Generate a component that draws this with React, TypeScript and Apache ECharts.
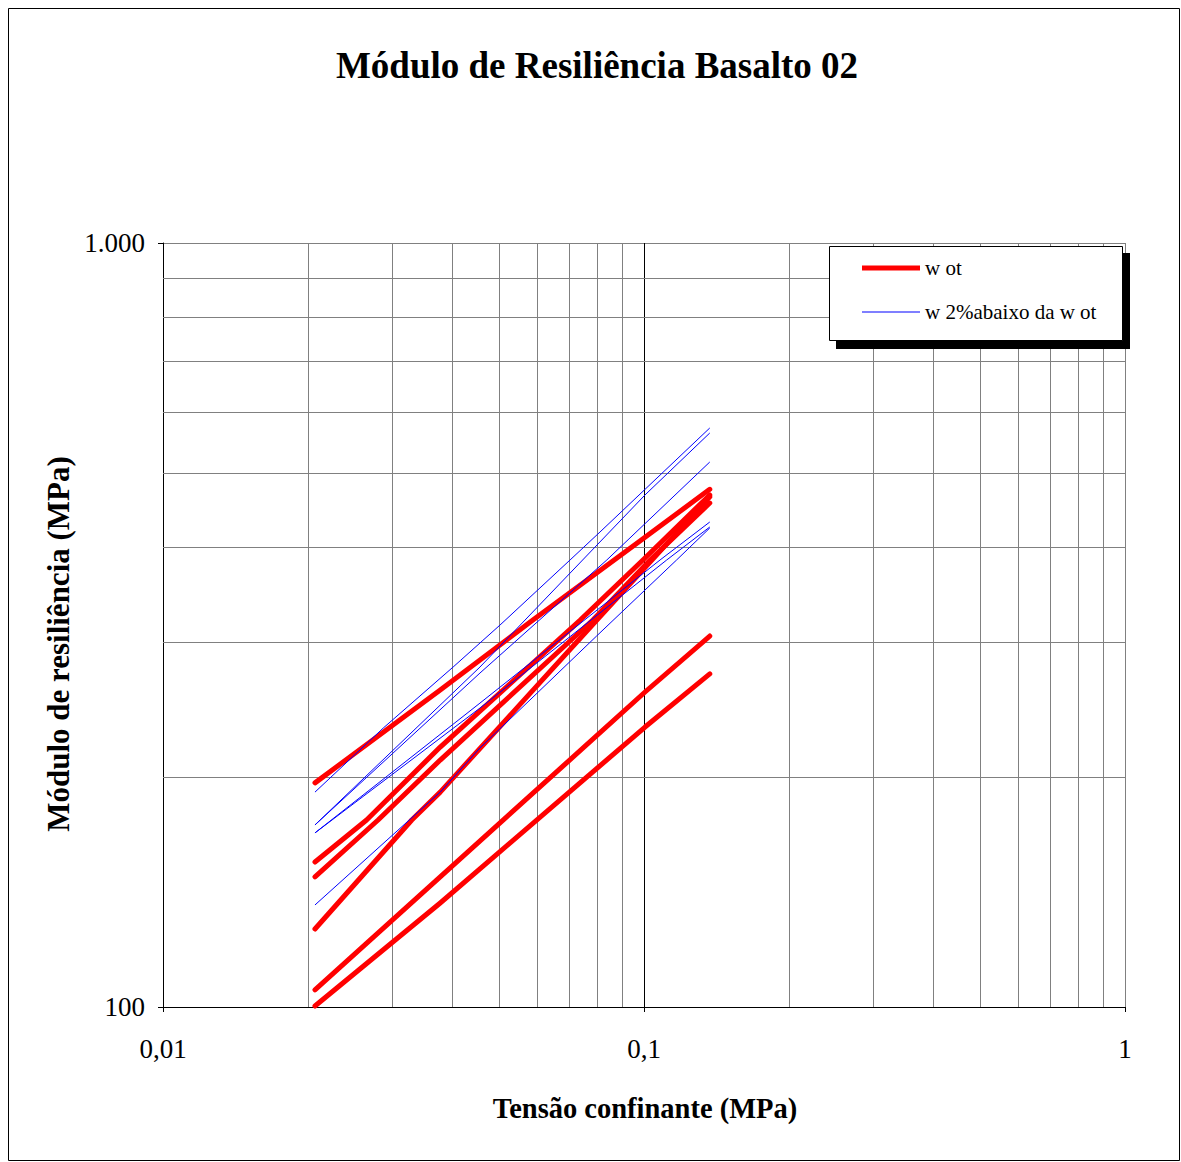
import React, { useEffect, useRef } from 'react';
import * as echarts from 'echarts';

const FONT = '"Liberation Serif", "Times New Roman", Times, serif';

const TITLE = 'Módulo de Resiliência Basalto 02';
const X_NAME = 'Tensão confinante (MPa)';
const Y_NAME = 'Módulo de resiliência (MPa)';
const RED_NAME = 'w ot';
const BLUE_NAME = 'w 2%abaixo da w ot';

// minor grid positions (axis values)
const xMinorTicks = [0.02, 0.03, 0.04, 0.05, 0.06, 0.07, 0.08, 0.09, 0.2, 0.3, 0.4, 0.5, 0.6, 0.7, 0.8, 0.9];
const yMinorTicks = [200, 300, 400, 500, 600, 700, 800, 900];

// wot curves [tensão confinante (MPa), módulo (MPa)]
const wot1 = [[0.0207, 196.5], [0.0377, 260], [0.058, 319], [0.1005, 412], [0.137, 476]];
const wot2 = [[0.0207, 154.8], [0.0265, 175.7], [0.0377, 218.9], [0.0737, 321], [0.0995, 384.7], [0.137, 468]];
const wot3 = [[0.0207, 148], [0.028, 175.7], [0.0377, 210.5], [0.0783, 321], [0.103, 384.7], [0.137, 456.7]];
const wot4 = [[0.0207, 126.5], [0.0329, 175.7], [0.0377, 191.1], [0.0798, 321], [0.137, 465.2]];
const wot5 = [[0.0207, 105.3], [0.0377, 148], [0.1005, 258.4], [0.137, 305.9]];
const wot6 = [[0.0207, 100.3], [0.0377, 136.8], [0.1005, 232.5], [0.137, 272.9]];

// w 2% abaixo da wot curves
const w2a = [[0.0207, 191.1], [0.0287, 231.8], [0.0401, 278.6], [0.0502, 316.2], [0.0702, 384.7], [0.081, 418.5], [0.137, 572.6]];
const w2b = [[0.0207, 173.1], [0.0456, 278.6], [0.1005, 468], [0.137, 564]];
const w2c = [[0.0207, 173.1], [0.0456, 273.6], [0.0837, 384.7], [0.137, 516.8]];
const w2d = [[0.0207, 169], [0.0456, 249.9], [0.108, 384.7], [0.137, 431.3]];
const w2e = [[0.0207, 169], [0.0456, 246.2], [0.1115, 384.7], [0.137, 424.9]];
const w2f = [[0.0207, 136], [0.0377, 191.1], [0.0456, 218.3], [0.0797, 305.9], [0.1169, 384.7], [0.137, 423.6]];

const redCurves = [wot1, wot2, wot3, wot4, wot5, wot6];
const blueCurves = [w2a, w2b, w2c, w2d, w2e, w2f];

const fmtX = (v: number) => String(Number(v.toPrecision(6))).replace('.', ',');
const fmtY = (v: number) => String(Math.round(v)).replace(/\B(?=(\d{3})+(?!\d))/g, '.');

export default function App() {
  const ref = useRef<HTMLDivElement>(null);

  useEffect(() => {
    if (!ref.current) return;
    const chart = echarts.init(ref.current, null, { renderer: 'svg' });

    const gridMarkLine = {
      silent: true,
      symbol: 'none',
      z: 1,
      label: { show: false },
      lineStyle: { color: '#808080', width: 1, type: 'solid' },
      emphasis: { disabled: true },
      data: [
        ...xMinorTicks.map((v) => ({ xAxis: v })),
        ...yMinorTicks.map((v) => ({ yAxis: v })),
      ],
    };

    const series: any[] = [];
    redCurves.forEach((d, i) => {
      series.push({
        type: 'line',
        name: RED_NAME,
        data: d,
        symbol: 'none',
        z: 4,
        color: '#ff0000',
        lineStyle: { color: '#ff0000', width: 5, cap: 'round', join: 'round' },
        emphasis: { disabled: true },
        ...(i === 0 ? { markLine: gridMarkLine } : {}),
      });
    });
    blueCurves.forEach((d) => {
      series.push({
        type: 'line',
        name: BLUE_NAME,
        data: d,
        symbol: 'none',
        z: 5,
        color: '#0000ff',
        lineStyle: { color: '#0000ff', width: 1 },
        emphasis: { disabled: true },
      });
    });

    const textStyle = (text: string, size: number) => ({
      text,
      fontFamily: FONT,
      fontSize: size,
      fontWeight: 'bold',
      fill: '#000',
      align: 'center',
      verticalAlign: 'middle',
      textAlign: 'center',
      textVerticalAlign: 'middle',
    });

    chart.setOption({
      animation: false,
      backgroundColor: '#ffffff',
      grid: { left: 163, top: 243, right: 56, bottom: 155 },
      xAxis: {
        type: 'log',
        logBase: 10,
        min: 0.01,
        max: 1,
        axisLine: { show: true, lineStyle: { color: '#000', width: 1 } },
        axisTick: { show: true, length: 5, inside: false, lineStyle: { color: '#000' } },
        axisLabel: { formatter: fmtX, fontFamily: FONT, fontSize: 27, color: '#000', margin: 28 },
        splitLine: { show: true, lineStyle: { color: ['#808080', '#000000', '#808080'], width: 1 } },
        minorTick: { show: false },
        minorSplitLine: { show: false },
      },
      yAxis: {
        type: 'log',
        logBase: 10,
        min: 100,
        max: 1000,
        axisLine: { show: true, lineStyle: { color: '#000', width: 1 } },
        axisTick: { show: true, length: 5, inside: false, lineStyle: { color: '#000' } },
        axisLabel: { formatter: fmtY, fontFamily: FONT, fontSize: 27, color: '#000', margin: 18 },
        splitLine: { show: true, lineStyle: { color: '#808080', width: 1 } },
        minorTick: { show: false },
        minorSplitLine: { show: false },
      },
      legend: {
        orient: 'vertical',
        left: 862,
        top: 257,
        padding: 0,
        itemWidth: 58,
        itemHeight: 14,
        itemGap: 22,
        z: 60,
        selectedMode: false,
        itemStyle: { borderWidth: 0 },
        textStyle: { fontFamily: FONT, fontSize: 21, color: '#000', lineHeight: 22 },
        data: [
          { name: RED_NAME, icon: 'path://M0,0L58,0L58,5L0,5Z', itemStyle: { color: '#ff0000' } },
          { name: BLUE_NAME, icon: 'path://M0,0L58,0L58,1L0,1Z', itemStyle: { color: '#0000ff' } },
        ],
      },
      graphic: [
        {
          type: 'rect',
          z: 0,
          silent: true,
          shape: { x: 8.5, y: 8.5, width: 1171, height: 1152 },
          style: { fill: 'none', stroke: '#000', lineWidth: 1 },
        },
        {
          type: 'rect',
          z: 50,
          silent: true,
          shape: { x: 836, y: 253, width: 294, height: 96 },
          style: { fill: '#000' },
        },
        {
          type: 'rect',
          z: 51,
          silent: true,
          shape: { x: 829.5, y: 246.5, width: 293, height: 94 },
          style: { fill: '#fff', stroke: '#000', lineWidth: 1 },
        },
        { type: 'text', x: 597, y: 65, silent: true, style: textStyle(TITLE, 37) },
        { type: 'text', x: 645, y: 1108, silent: true, style: textStyle(X_NAME, 28.5) },
        { type: 'text', x: 58, y: 644, rotation: Math.PI / 2, silent: true, style: textStyle(Y_NAME, 31) },
      ],
      series,
    });

    return () => chart.dispose();
  }, []);

  return (
    <div
      ref={ref}
      style={{ position: 'fixed', left: 0, top: 0, width: 1181, height: 1162, background: '#fff' }}
    />
  );
}
